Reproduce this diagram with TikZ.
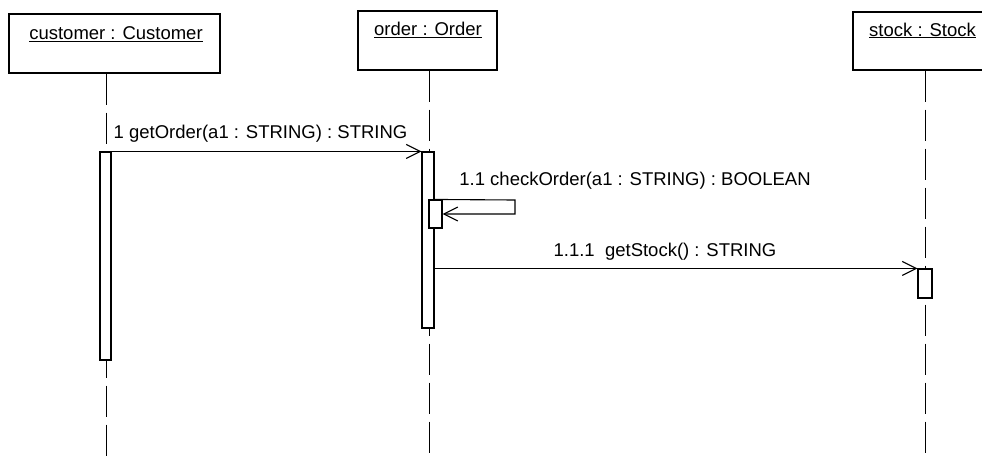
\documentclass[tikz,border=0pt]{standalone}
\usepackage{fontspec}
\setmainfont{Liberation Sans}
\usetikzlibrary{arrows.meta}
\begin{document}
\begin{tikzpicture}[x=1pt,y=-1pt,
  obj/.style={draw, line width=1.2pt, fill=white, inner sep=0pt},
  lbl/.style={font=\fontsize{18.5}{21}\selectfont, inner sep=0pt},
  life/.style={line width=1pt, dash pattern=on 31pt off 8pt},
  act/.style={draw, line width=1.1pt, fill=white, inner sep=0pt},
  msg/.style={line width=1.1pt, -{Straight Barb[length=14pt,width=14pt]}}]
\clip (0,0) rectangle (982,456);
\fill[white] (0,0) rectangle (982,456);

% object boxes
\node[obj, minimum width=211pt, minimum height=59pt] (cust) at (114.5,43.5) {};
\node[obj, minimum width=139pt, minimum height=59pt] (ord) at (427.5,40.5) {};
\node[obj, minimum width=144pt, minimum height=58pt] (stk) at (925,41) {};

\node[lbl, anchor=base] (custT) at (116,39.5) {\underline{customer : Customer}};
\node[lbl, anchor=base] (ordT) at (428,35.5) {\underline{order : Order}};
\node[lbl, anchor=base] (stkT) at (922.5,36) {\underline{stock : Stock}};

% lifeline ends
\coordinate (custEnd) at (106,456);
\coordinate (ordEnd) at (429,456);
\coordinate (stkEnd) at (925,456);

\draw[life] (cust.south -| custEnd) -- (custEnd);
\draw[life] (ord.south -| ordEnd) -- (ordEnd);
\draw[life] (stk.south -| stkEnd) -- (stkEnd);

% activations
\node[act, minimum width=11pt, minimum height=208pt] (custAct) at (105.5,256) {};
\node[act, minimum width=12pt, minimum height=176pt] (ordAct) at (428,240) {};
\node[act, minimum width=13pt, minimum height=28pt] (selfAct) at (435.5,214) {};
\node[act, minimum width=14pt, minimum height=29pt] (stkAct) at (925,283.5) {};

% messages
\draw[msg] (custAct.north east) -- (ordAct.north west);
\coordinate (loopR) at (515,200);
\draw[msg] (ordAct.east |- selfAct.north) -- (loopR) -- (loopR |- selfAct.east) -- (selfAct.east);
\draw[msg] (ordAct.east |- stkAct.north west) -- (stkAct.north west);

% labels
\node[lbl, anchor=base] (l1) at (260.5,138) {1 getOrder(a1 : STRING) : STRING};
\node[lbl, anchor=base] (l2) at (635,185) {1.1 checkOrder(a1 : STRING) : BOOLEAN};
\node[lbl, anchor=base] (l3) at (665,256) {1.1.1\ \ getStock() : STRING};
\end{tikzpicture}
\end{document}
